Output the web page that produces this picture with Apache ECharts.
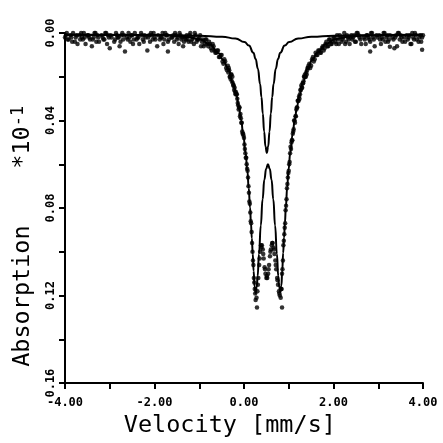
<!DOCTYPE html>
<html><head><meta charset="utf-8">
<script src="https://cdn.jsdelivr.net/npm/echarts@6/dist/echarts.min.js"></script>
<style>html,body{margin:0;padding:0;background:#fff}#c{width:443px;height:443px}</style>
</head><body><div id="c"></div>
<script>
// measured spectrum, channel set A: velocity (mm/s) and absorption (x10^-1)
const velocities = [
-4.00,-3.96,-3.92,-3.88,-3.84,-3.80,-3.76,-3.72,-3.68,-3.64,
-3.60,-3.56,-3.52,-3.48,-3.44,-3.40,-3.36,-3.32,-3.28,-3.24,
-3.20,-3.16,-3.12,-3.08,-3.04,-3.00,-2.96,-2.92,-2.88,-2.84,
-2.80,-2.76,-2.72,-2.68,-2.64,-2.60,-2.56,-2.52,-2.48,-2.44,
-2.40,-2.36,-2.32,-2.28,-2.24,-2.20,-2.16,-2.12,-2.08,-2.04,
-2.00,-1.96,-1.92,-1.88,-1.84,-1.80,-1.76,-1.72,-1.68,-1.64,
-1.60,-1.56,-1.52,-1.48,-1.44,-1.40,-1.36,-1.32,
-1.28,-1.24,-1.20,-1.16,-1.12,-1.08,-1.04,-1.00,-0.96,-0.92,
-0.88,-0.84,-0.80,-0.76,-0.72,-0.68,-0.64,-0.60,-0.56,-0.52,
-0.48,-0.44,-0.40,-0.36,-0.32,-0.28,-0.24,-0.20,-0.16,-0.12,
-0.08,-0.04,0.00,0.04,0.08,0.12,0.16,0.20,0.24,0.28,
0.32,0.36,0.40,0.44,0.48,0.52,0.56,0.60,0.64,0.68,
0.72,0.76,0.80,0.84,0.88,0.92,0.96,1.00,1.04,1.08,
1.12,1.16,1.20,1.24,1.28,1.32,1.36,1.40,1.44,1.48,
1.52,1.56,1.60,1.64,1.68,1.72,1.76,1.80,1.84,1.88,
1.92,1.96,2.00,2.04,2.08,2.12,2.16,2.20,2.24,2.28,
2.32,2.36,2.40,
2.44,2.48,2.52,2.56,2.60,2.64,2.68,2.72,2.76,2.80,
2.84,2.88,2.92,2.96,3.00,3.04,3.08,3.12,3.16,3.20,
3.24,3.28,3.32,3.36,3.40,3.44,3.48,3.52,3.56,3.60,
3.64,3.68,3.72,3.76,3.80,3.84,3.88,3.92,3.96,4.00
];
const absorption = [
0.002,0.000,0.003,0.001,0.004,-0.001,0.002,0.005,0.001,0.000,
0.003,0.002,-0.002,0.001,0.003,0.006,0.002,0.000,0.001,0.004,
-0.001,0.002,0.003,0.000,0.001,0.007,0.002,-0.001,0.003,0.001,
0.002,0.004,0.000,0.001,-0.003,0.003,0.002,0.001,0.005,0.000,
0.003,0.002,-0.001,0.001,0.004,0.002,0.008,0.001,0.000,0.003,
0.002,-0.002,0.001,0.003,0.002,0.005,0.000,0.001,0.003,-0.001,
0.002,0.004,0.001,0.002,0.000,0.003,0.006,0.002,
0.001,0.004,0.000,0.003,0.005,0.001,0.003,0.002,0.006,0.003,
0.005,0.003,0.006,0.005,0.008,0.006,0.009,0.008,0.011,0.010,
0.013,0.012,0.016,0.015,0.020,0.019,0.024,0.027,0.028,0.035,
0.037,0.045,0.048,0.057,0.063,0.077,0.087,0.104,0.117,0.121,
0.112,0.100,0.097,0.103,0.110,0.112,0.106,0.099,0.096,0.101,
0.108,0.115,0.120,0.117,0.097,0.087,0.071,0.063,0.052,0.049,
0.040,0.038,0.031,0.030,0.024,0.023,0.019,0.019,0.015,0.016,
0.012,0.013,0.009,0.010,0.008,0.009,0.006,0.007,0.004,0.006,
0.003,0.005,0.002,0.004,0.001,0.005,0.002,0.003,0.000,0.004,
0.002,0.005,0.001,
0.002,0.004,0.000,0.001,0.003,-0.001,0.002,0.005,0.001,0.003,
0.000,0.002,0.006,0.001,-0.002,0.003,0.002,0.000,0.004,0.001,
0.003,-0.001,0.002,0.007,0.001,0.000,0.003,0.002,-0.002,0.004,
0.001,0.002,0.005,0.000,0.003,0.001,-0.001,0.002,0.004,0.001
];
// channel set B (interleaved channels)
const velocitiesB = [
-3.98,-3.94,-3.90,-3.86,-3.82,-3.78,-3.74,-3.70,-3.66,-3.62,
-3.58,-3.54,-3.50,-3.46,-3.42,-3.38,-3.34,-3.30,-3.26,-3.22,
-3.18,-3.14,-3.10,-3.06,-3.02,-2.98,-2.94,-2.90,-2.86,-2.82,
-2.78,-2.74,-2.70,-2.66,-2.62,-2.58,-2.54,-2.50,-2.46,-2.42,
-2.38,-2.34,-2.30,-2.26,-2.22,-2.18,-2.14,-2.10,-2.06,-2.02,
-1.98,-1.94,-1.90,-1.86,-1.82,-1.78,-1.74,-1.70,-1.66,-1.62,
-1.58,-1.54,-1.50,-1.46,-1.42,-1.38,-1.34,-1.30,
-1.26,-1.22,-1.18,-1.14,-1.10,-1.06,-1.02,-0.98,-0.94,-0.90,
-0.86,-0.82,-0.78,-0.74,-0.70,-0.66,-0.62,-0.58,-0.54,-0.50,
-0.46,-0.42,-0.38,-0.34,-0.30,-0.26,-0.22,-0.18,-0.14,-0.10,
-0.06,-0.02,0.02,0.06,0.10,0.14,0.18,0.22,0.26,
0.30,0.34,0.38,0.42,0.46,0.50,0.54,0.58,0.62,0.66,
0.70,0.74,0.78,0.82,
0.86,0.90,0.94,0.98,1.02,1.06,1.10,1.14,1.18,1.22,
1.26,1.30,1.34,1.38,1.42,1.46,1.50,1.54,1.58,1.62,
1.66,1.70,1.74,1.78,1.82,1.86,1.90,1.94,1.98,2.02,
2.06,2.10,2.14,2.18,2.22,2.26,2.30,2.34,2.38,
2.42,2.46,2.50,2.54,2.58,2.62,2.66,2.70,2.74,2.78,
2.82,2.86,2.90,2.94,2.98,3.02,3.06,3.10,3.14,3.18,
3.22,3.26,3.30,3.34,3.38,3.42,3.46,3.50,3.54,3.58,
3.62,3.66,3.70,3.74,3.78,3.82,3.86,3.90,3.94,3.98
];
const absorptionB = [
0.001,0.003,-0.001,0.002,0.000,0.004,0.001,-0.002,0.003,0.002,
0.000,0.005,0.001,0.002,-0.001,0.003,0.000,0.004,0.002,-0.003,
0.001,0.003,0.000,0.005,0.002,0.001,-0.001,0.004,0.000,0.002,
0.006,0.001,0.003,-0.002,0.002,0.000,0.004,0.001,0.003,-0.001,
0.002,0.005,0.000,0.003,0.001,-0.002,0.002,0.004,0.001,0.000,
0.003,0.006,-0.001,0.002,0.000,0.003,0.001,0.004,-0.002,0.002,
0.001,0.000,0.003,0.005,0.001,0.002,0.004,0.003,
0.003,0.001,0.004,0.002,0.000,0.004,0.003,0.001,0.004,0.006,
0.003,0.005,0.004,0.007,0.005,0.008,0.009,0.008,0.011,0.010,
0.014,0.013,0.017,0.016,0.021,0.020,0.026,0.027,0.032,0.034,
0.041,0.046,0.053,0.060,0.070,0.082,0.096,0.112,0.122,
0.118,0.106,0.097,0.099,0.107,0.112,0.110,0.102,0.097,0.098,
0.104,0.112,0.118,0.121,
0.108,0.092,0.079,0.066,0.059,0.050,0.045,0.041,0.034,0.031,
0.026,0.025,0.020,0.020,0.016,0.014,0.015,0.011,0.012,0.010,
0.008,0.009,0.007,0.008,0.005,0.006,0.003,0.005,0.004,0.002,
0.005,0.003,0.001,0.004,0.002,0.005,0.001,0.003,0.002,
0.003,0.001,0.004,0.000,0.002,0.005,-0.001,0.003,0.001,0.002,
0.004,0.000,0.003,-0.002,0.002,0.001,0.005,0.003,0.000,0.002,
0.004,0.001,-0.001,0.003,0.002,0.006,0.000,0.001,0.004,0.002,
-0.001,0.003,0.001,0.005,0.002,0.000,0.003,0.004,0.001,0.002
];
// channel set C (extra channels across the absorption dip)
const velocitiesC = [
-0.35,-0.33,-0.31,-0.29,-0.27,-0.25,-0.23,-0.21,-0.19,-0.17,
-0.15,-0.13,-0.11,-0.09,-0.07,-0.05,-0.03,-0.01,0.01,0.03,
0.05,0.07,0.09,0.11,0.13,0.15,0.17,0.19,0.21,0.23,0.25,
0.31,0.35,0.39,0.43,0.47,0.51,0.55,0.59,0.63,0.67,0.71,0.75,0.79,
0.83,0.85,0.87,0.89,0.91,0.93,0.95,0.97,0.99,1.01,
1.03,1.05,1.07,1.09,1.11,1.13,1.15,1.17,1.19,1.21,
1.23,1.25,1.27,1.29,1.31,1.33,1.35,1.37,1.39,1.41,1.43
];
const absorptionC = [
0.018,0.017,0.020,0.019,0.022,0.023,0.024,0.025,0.028,0.028,
0.030,0.033,0.034,0.038,0.039,0.041,0.046,0.047,0.051,0.055,
0.057,0.062,0.066,0.073,0.078,0.086,0.091,0.100,0.106,0.114,0.119,
0.115,0.103,0.098,0.101,0.108,0.111,0.108,0.100,0.096,0.099,0.106,0.113,0.119,
0.117,0.110,0.104,0.095,0.089,0.081,0.076,0.069,0.064,0.060,
0.055,0.053,0.049,0.046,0.044,0.040,0.038,0.035,0.034,0.031,
0.029,0.028,0.026,0.025,0.023,0.022,0.020,0.020,0.018,0.017,0.016
];
// stray points
const strayV = [0.29, 0.85, -2.66, -1.70, -2.77, -1.94, 3.98, 2.82, 3.26, 2.52];
const strayA = [0.1254, 0.1254, 0.0085, 0.0085, -0.005, -0.0045, 0.0076, 0.0085, 0.0063, -0.005];

// fitted envelope (doublet)
const outerV = [-4.0,-2.0,-1.665,-1.265,-0.965,-0.765,-0.565,-0.465,-0.355,-0.245,-0.165,-0.115,-0.065,-0.015,0.035,0.075,0.105,0.135,0.155,0.175,0.195,0.215,0.235,0.26,0.285,0.305,0.335,0.375,0.415,0.455,0.495,0.535,0.575,0.615,0.655,0.695,0.735,0.765,0.785,0.81,0.835,0.855,0.875,0.895,0.915,0.935,0.965,0.995,1.035,1.085,1.135,1.185,1.235,1.315,1.425,1.535,1.635,1.835,2.035,2.335,2.735,4.0];
const outerA = [0.0008,0.001,0.0011,0.0018,0.003,0.0053,0.0093,0.0123,0.0163,0.0228,0.0288,0.0338,0.0398,0.0468,0.0548,0.0628,0.0708,0.0798,0.0868,0.0938,0.1008,0.1088,0.1158,0.1190,0.1160,0.1110,0.1010,0.0880,0.0760,0.0670,0.0620,0.0600,0.0620,0.0670,0.0760,0.0880,0.1010,0.1110,0.1160,0.1185,0.1155,0.1085,0.1005,0.0935,0.0865,0.0795,0.0705,0.0625,0.0545,0.0465,0.0395,0.0335,0.0285,0.0225,0.0160,0.0120,0.0090,0.0050,0.0028,0.0017,0.0011,0.0008];

// fitted singlet
const innerV = [-4.0,-2.0,-1.0,-0.49,-0.19,0.01,0.11,0.21,0.26,0.31,0.36,0.39,0.42,0.45,0.48,0.51,0.54,0.57,0.60,0.63,0.66,0.71,0.76,0.81,0.91,1.01,1.21,1.51,2.01,3.0,4.0];
const innerA = [0.0008,0.0009,0.0012,0.0017,0.0025,0.0041,0.0057,0.0090,0.0119,0.0163,0.0233,0.0293,0.0368,0.0450,0.0519,0.0548,0.0519,0.0450,0.0368,0.0293,0.0233,0.0163,0.0119,0.0090,0.0057,0.0041,0.0025,0.0017,0.0012,0.0009,0.0008];

const xTickValues = [-4, -2, 0, 2, 4];
const xTickLabels = ['-4.00', '-2.00', '0.00', '2.00', '4.00'];
const yTickValues = [0, 0.04, 0.08, 0.12, 0.16];
const yTickLabels = ['0.00', '0.04', '0.08', '0.12', '0.16'];

const FONT = 'DejaVu Sans Mono';
const pts = velocities.map((v, i) => [v, absorption[i]])
  .concat(velocitiesB.map((v, i) => [v, absorptionB[i]]))
  .concat(velocitiesC.map((v, i) => [v, absorptionC[i]]))
  .concat(strayV.map((v, i) => [v, strayA[i]]));
const outer = outerV.map((v, i) => [v, outerA[i]]);
const inner = innerV.map((v, i) => [v, innerA[i]]);
function lbl(vals, labs) {
  return function (v) {
    for (let i = 0; i < vals.length; i++) if (Math.abs(vals[i] - v) < 1e-9) return labs[i];
    return '';
  };
}
const axisCommon = {
  axisLine: { onZero: false, lineStyle: { color: '#000', width: 2 } },
  axisTick: { length: 6, lineStyle: { color: '#000', width: 2 } },
  minorTick: { show: true, splitNumber: 2, length: 6, lineStyle: { color: '#000', width: 2 } },
  splitLine: { show: false },
  minorSplitLine: { show: false }
};
const chart = echarts.init(document.getElementById('c'), null, { renderer: 'canvas' });
chart.setOption({
  animation: false,
  backgroundColor: '#fff',
  grid: { left: 65, right: 20, top: 33, bottom: 55 },
  xAxis: Object.assign({
    type: 'value', min: -4, max: 4, interval: 2,
    axisLabel: { margin: 14, color: '#000', fontFamily: FONT, fontSize: 12, fontWeight: 'bold', formatter: lbl(xTickValues, xTickLabels) },
    name: 'Velocity [mm/s]  ', nameLocation: 'middle', nameGap: 27,
    nameTextStyle: { color: '#000', fontFamily: FONT, fontSize: 23.5 }
  }, axisCommon),
  yAxis: Object.assign({
    type: 'value', min: 0, max: 0.16, interval: 0.04, inverse: true,
    axisLabel: { margin: 8, rotate: 90, color: '#000', fontFamily: FONT, fontSize: 12, fontWeight: 'bold', formatter: lbl(yTickValues, yTickLabels) },
    name: '{a|Absorption    *10}{s|-1}{a|    }', nameLocation: 'middle', nameGap: 29, nameRotate: 90,
    nameTextStyle: { color: '#000', fontFamily: FONT, fontSize: 23.5,
      rich: { a: { fontFamily: FONT, fontSize: 23.5, color: '#000', lineHeight: 26 },
              s: { fontFamily: FONT, fontSize: 17, color: '#000', verticalAlign: 'top', lineHeight: 26 } } }
  }, axisCommon),
  series: [
    { type: 'line', data: outer, showSymbol: false, smooth: true, smoothMonotone: 'x', lineStyle: { color: '#000', width: 2 }, z: 2 },
    { type: 'line', data: inner, showSymbol: false, smooth: true, smoothMonotone: 'x', lineStyle: { color: '#000', width: 2 }, z: 2 },
    { type: 'scatter', data: pts, symbolSize: 4.5, itemStyle: { color: '#000' }, z: 3 }
  ]
});
</script>
</body></html>
